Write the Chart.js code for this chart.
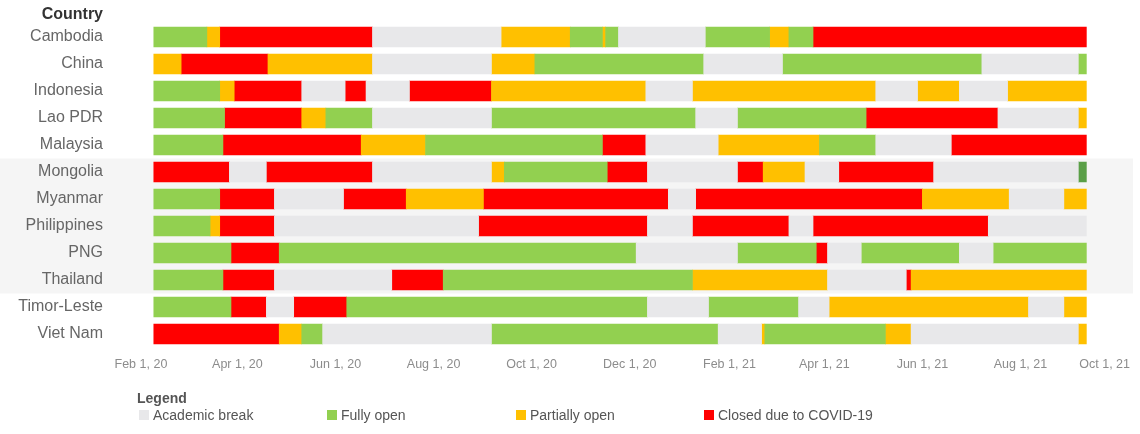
<!DOCTYPE html>
<html><head><meta charset="utf-8">
<script src="https://cdn.jsdelivr.net/npm/chart.js@4.4.1/dist/chart.umd.min.js"></script>
<style>
html,body{margin:0;padding:0;background:#fff;}
#wrap{position:relative;width:1140px;height:434px;font-family:"Liberation Sans",Arial,sans-serif;overflow:hidden;}
#c{position:absolute;left:0;top:0;}
.hdr{position:absolute;right:1037px;top:5px;font-weight:bold;font-size:16px;line-height:18px;color:#333;}
.legt{position:absolute;left:137px;top:390px;font-weight:bold;font-size:14px;line-height:16px;color:#555;}
.item{position:absolute;top:408px;height:14px;display:flex;align-items:center;font-size:14px;color:#555;white-space:nowrap;}
.item span.box{display:inline-block;width:10px;height:10px;margin-right:4px;}
</style></head>
<body>
<div id="wrap">
<canvas id="c" width="1140" height="434"></canvas>
<div class="hdr">Country</div>
<div class="legt">Legend</div>
<div id="legend"></div>
</div>
<script>
// ---- data ----
const countries = ['Cambodia','China','Indonesia','Lao PDR','Malaysia','Mongolia','Myanmar','Philippines','PNG','Thailand','Timor-Leste','Viet Nam'];
const statusKeys = ['A','F','P','C'];
const statusNames = ['Academic break','Fully open','Partially open','Closed due to COVID-19'];
const statusColors = ['#e8e8ea','#92d050','#ffc000','#ff0000'];
const shadedRows = ['Mongolia','Thailand'];
// each entry: [date the status starts, status]; last entry: end date
const cambodia = [['2020-02-09','F'],['2020-03-13','P'],['2020-03-21','C'],['2020-06-24','A'],['2020-09-12','P'],['2020-10-25','F'],['2020-11-14','P'],['2020-11-16','F'],['2020-11-24','A'],['2021-01-17','F'],['2021-02-26','P'],['2021-03-10','F'],['2021-03-25','C'],['2021-09-11',null]];
const china = [['2020-02-09','P'],['2020-02-26','C'],['2020-04-20','P'],['2020-06-24','A'],['2020-09-06','P'],['2020-10-03','F'],['2021-01-16','A'],['2021-03-06','F'],['2021-07-08','A'],['2021-09-06','F'],['2021-09-11',null]];
const indonesia = [['2020-02-09','F'],['2020-03-21','P'],['2020-03-30','C'],['2020-05-11','A'],['2020-06-07','C'],['2020-06-20','A'],['2020-07-17','C'],['2020-09-06','P'],['2020-12-11','A'],['2021-01-09','P'],['2021-05-03','A'],['2021-05-29','P'],['2021-06-24','A'],['2021-07-24','P'],['2021-09-11',null]];
const laoPdr = [['2020-02-09','F'],['2020-03-24','C'],['2020-05-11','P'],['2020-05-26','F'],['2020-06-24','A'],['2020-09-06','F'],['2021-01-11','A'],['2021-02-06','F'],['2021-04-27','C'],['2021-07-18','A'],['2021-09-06','P'],['2021-09-11',null]];
const malaysia = [['2020-02-09','F'],['2020-03-23','C'],['2020-06-17','P'],['2020-07-27','F'],['2020-11-14','C'],['2020-12-11','A'],['2021-01-25','P'],['2021-03-29','F'],['2021-05-03','A'],['2021-06-19','C'],['2021-09-11',null]];
const mongolia = [['2020-02-09','C'],['2020-03-27','A'],['2020-04-19','C'],['2020-06-24','A'],['2020-09-06','P'],['2020-09-14','F'],['2020-11-17','C'],['2020-12-12','A'],['2021-02-06','C'],['2021-02-22','P'],['2021-03-20','A'],['2021-04-10','C'],['2021-06-08','A'],['2021-09-06','F*'],['2021-09-11',null]];
const myanmar = [['2020-02-09','F'],['2020-03-21','C'],['2020-04-24','A'],['2020-06-06','C'],['2020-07-15','P'],['2020-09-01','C'],['2020-12-25','A'],['2021-01-11','C'],['2021-06-01','P'],['2021-07-25','A'],['2021-08-28','P'],['2021-09-11',null]];
const philippines = [['2020-02-09','F'],['2020-03-15','P'],['2020-03-21','C'],['2020-04-24','A'],['2020-08-29','C'],['2020-12-12','A'],['2021-01-09','C'],['2021-03-10','A'],['2021-03-25','C'],['2021-07-12','A'],['2021-09-11',null]];
const png = [['2020-02-09','F'],['2020-03-28','C'],['2020-04-27','F'],['2020-12-05','A'],['2021-02-06','F'],['2021-03-27','C'],['2021-04-03','A'],['2021-04-24','F'],['2021-06-24','A'],['2021-07-15','F'],['2021-09-11',null]];
const thailand = [['2020-02-09','F'],['2020-03-23','C'],['2020-04-24','A'],['2020-07-06','C'],['2020-08-07','F'],['2021-01-09','P'],['2021-04-03','A'],['2021-05-22','C'],['2021-05-25','P'],['2021-09-11',null]];
const timorLeste = [['2020-02-09','F'],['2020-03-28','C'],['2020-04-19','A'],['2020-05-06','C'],['2020-06-08','F'],['2020-12-12','A'],['2021-01-19','F'],['2021-03-16','A'],['2021-04-04','P'],['2021-08-06','A'],['2021-08-28','P'],['2021-09-11',null]];
const vietNam = [['2020-02-09','C'],['2020-04-27','P'],['2020-05-11','F'],['2020-05-24','A'],['2020-09-06','F'],['2021-01-25','A'],['2021-02-21','P'],['2021-02-23','F'],['2021-05-09','P'],['2021-05-25','A'],['2021-09-06','P'],['2021-09-11',null]];
const timelines = [cambodia, china, indonesia, laoPdr, malaysia, mongolia, myanmar, philippines, png, thailand, timorLeste, vietNam];
const tickDates = ['2020-02-01','2020-04-01','2020-06-01','2020-08-01','2020-10-01','2020-12-01','2021-02-01','2021-04-01','2021-06-01','2021-08-01','2021-10-01'];
const tickLabels = ['Feb 1, 20','Apr 1, 20','Jun 1, 20','Aug 1, 20','Oct 1, 20','Dec 1, 20','Feb 1, 21','Apr 1, 21','Jun 1, 21','Aug 1, 21','Oct 1, 21'];

// ---- build ----
const FONT = '"Liberation Sans", Arial, sans-serif';
function dayOf(s){const [y,m,d]=s.split('-').map(Number);return (Date.UTC(y,m-1,d)-Date.UTC(2020,1,1))/864e5;}
const datasets = statusKeys.map((k,i)=>({label:statusNames[i], data:[], backgroundColor:(ctx)=>(ctx.raw && ctx.raw.dark ? '#5a9f47' : statusColors[i])}));
timelines.forEach((tl,ci)=>{
  for(let j=0;j<tl.length-1;j++){
    const st = tl[j][1];
    const key = st.replace('*','');
    const idx = statusKeys.indexOf(key);
    datasets[idx].data.push({y:countries[ci], x:[dayOf(tl[j][0]), dayOf(tl[j+1][0])], dark: st.endsWith('*')});
  }
});

const bandPlugin = {
  id:'band',
  beforeDraw(chart){
    const y = chart.scales.y, ctx = chart.ctx;
    const half = (y.getPixelForValue(1)-y.getPixelForValue(0))/2;
    const t = y.getPixelForValue(countries.indexOf(shadedRows[0])) - half;
    const b = y.getPixelForValue(countries.indexOf(shadedRows[1])) + half;
    ctx.save(); ctx.fillStyle='#f5f5f5'; ctx.fillRect(0,t,chart.chartArea.right,b-t); ctx.restore();
    const items = chart.scales.x.getLabelItems();
    if(items.length){
      const last = items[items.length-1];
      last.options.textAlign='right';
      last.options.translation=[chart.chartArea.right-3, last.options.translation[1]];
    }
  }
};

new Chart(document.getElementById('c'), {
  type:'bar',
  data:{labels:countries, datasets},
  options:{
    indexAxis:'y', responsive:false, animation:false,
    layout:{padding:{top:23.5,right:7,left:0,bottom:0}},
    plugins:{legend:{display:false}, tooltip:{enabled:false}},
    datasets:{bar:{grouped:false, barThickness:20, borderWidth:0, borderSkipped:false}},
    scales:{
      x:{type:'linear', min:-18, max:617,
        grid:{display:false, drawTicks:false}, border:{display:false},
        afterBuildTicks:(s)=>{ s.ticks = tickDates.map(d=>({value:dayOf(d)})); },
        afterFit:(s)=>{ s.height = 86.5; s.paddingLeft = 0; s.paddingRight = 0; },
        ticks:{callback:(v,i)=>tickLabels[i], color:'#8c8c8c', font:{family:FONT,size:12.5}, padding:10, maxRotation:0, autoSkip:false}
      },
      y:{type:'category', grid:{display:false, drawTicks:false}, border:{display:false},
        afterFit:(s)=>{ s.width = 112; s.paddingTop = 0; s.paddingBottom = 0; },
        ticks:{color:'#666', font:{family:FONT,size:16}, padding:9}
      }
    }
  },
  plugins:[bandPlugin]
});

// HTML legend
const legLefts = [139,327,516,704];
const leg = document.getElementById('legend');
statusNames.forEach((n,i)=>{
  const d = document.createElement('div');
  d.className='item'; d.style.left=legLefts[i]+'px';
  const b = document.createElement('span'); b.className='box'; b.style.background=statusColors[i];
  d.appendChild(b); d.appendChild(document.createTextNode(n));
  leg.appendChild(d);
});
</script>
</body></html>
